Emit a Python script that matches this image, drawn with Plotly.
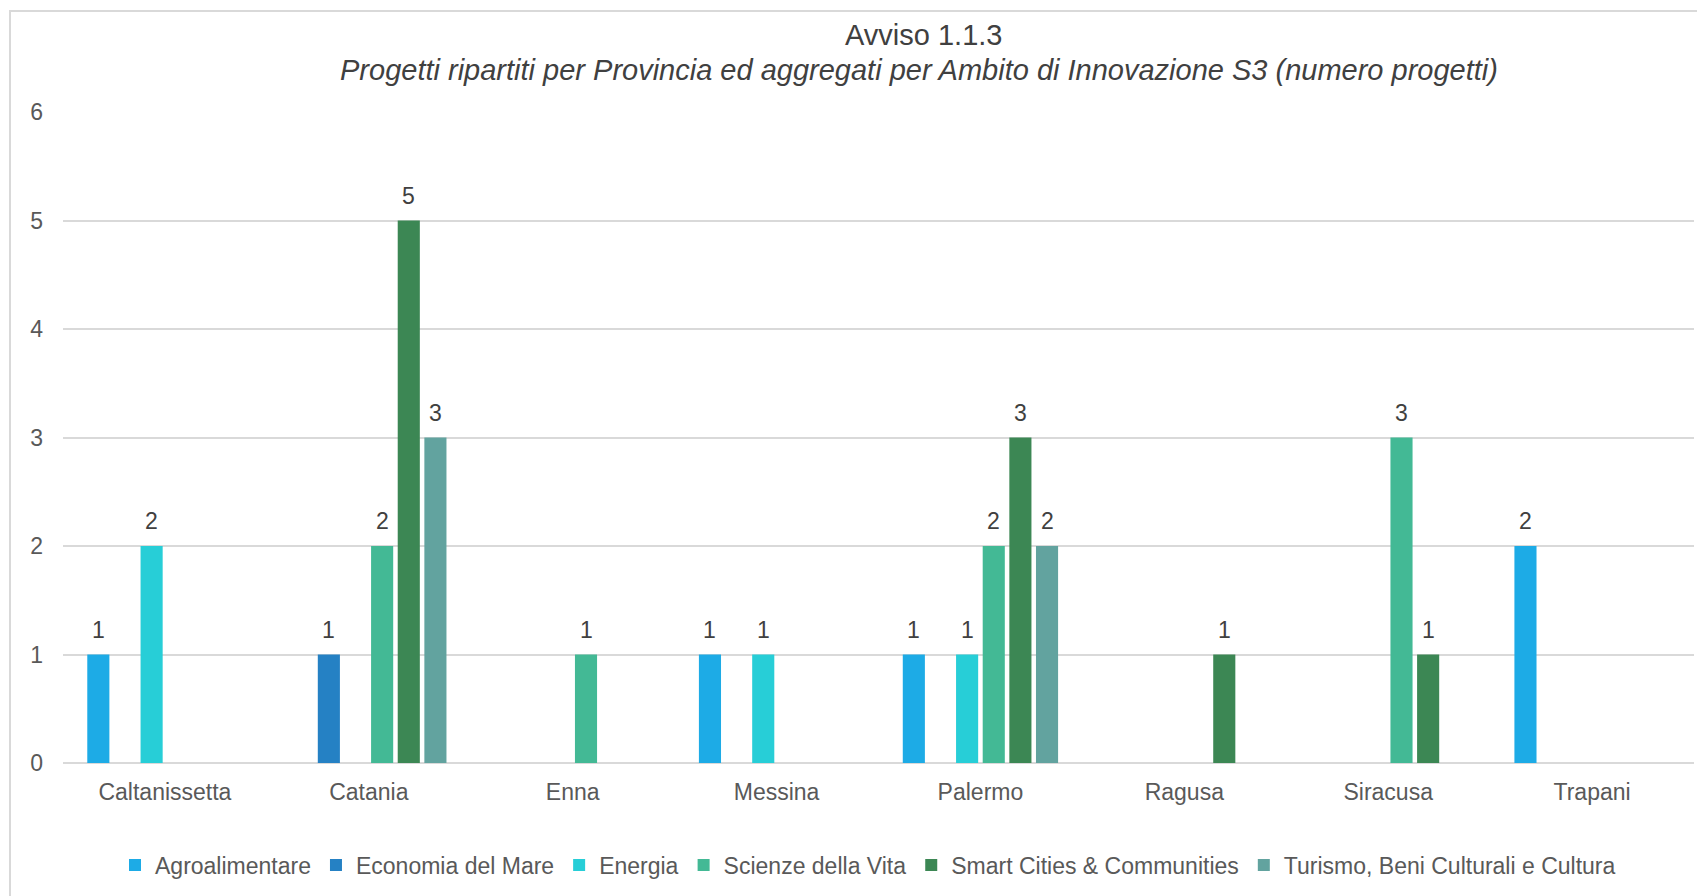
import plotly.graph_objects as go

provinces = ["Caltanissetta", "Catania", "Enna", "Messina", "Palermo", "Ragusa", "Siracusa", "Trapani"]
series_names = ["Agroalimentare", "Economia del Mare", "Energia", "Scienze della Vita",
                "Smart Cities & Communities", "Turismo, Beni Culturali e Cultura"]
agroalimentare = [1, 0, 0, 1, 1, 0, 0, 2]
economia_mare = [0, 1, 0, 0, 0, 0, 0, 0]
energia = [2, 0, 0, 1, 1, 0, 0, 0]
scienze_vita = [0, 2, 1, 0, 2, 0, 3, 0]
smart_cities = [0, 5, 0, 0, 3, 1, 1, 0]
turismo = [0, 3, 0, 0, 2, 0, 0, 0]
y_ticks = [0, 1, 2, 3, 4, 5, 6]
title_main = "Avviso 1.1.3"
title_sub = "Progetti ripartiti per Provincia ed aggregati per Ambito di Innovazione S3 (numero progetti)"

colors = ["#1DABE6", "#2581C4", "#27CED7", "#43B995", "#3C8754", "#62A39F"]
all_values = [agroalimentare, economia_mare, energia, scienze_vita, smart_cities, turismo]

# figure is placed by the page at an 8px offset
W, H = 1697, 888
L, R, T, B = 55, 11, 104, 133
pw, ph = W - L - R, H - T - B
BARGAP = 0.216
slot = (pw / len(provinces)) * (1 - BARGAP) / len(series_names)
FONT = "Liberation Sans, Arial"

fig = go.Figure()
for i, (name, vals, col) in enumerate(zip(series_names, all_values, colors)):
    fig.add_trace(go.Bar(name=name, x=provinces, y=vals,
                         marker=dict(color=col, line=dict(width=0))))
    for p, v in zip(provinces, vals):
        if v > 0:
            fig.add_annotation(x=p, y=v, xref="x", yref="y", text=str(v), showarrow=False,
                               xshift=(i - (len(series_names) - 1) / 2) * slot, yshift=25,
                               yanchor="middle", font=dict(family=FONT, size=23, color="#404040"))

fig.add_annotation(xref="paper", yref="paper", x=(915 - L) / pw, y=(H - B - 27) / ph,
                   text=title_main, showarrow=False, xanchor="center", yanchor="middle",
                   font=dict(family=FONT, size=29, color="#404040"))
fig.add_annotation(xref="paper", yref="paper", x=(911 - L) / pw, y=(H - B - 62) / ph,
                   text="<i>" + title_sub + "</i>", showarrow=False, xanchor="center", yanchor="middle",
                   font=dict(family=FONT, size=29, color="#404040"))

fig.update_layout(
    width=W, height=H,
    margin=dict(l=L, r=R, t=T, b=B, autoexpand=False),
    paper_bgcolor="white", plot_bgcolor="white",
    barmode="group", bargap=BARGAP, bargroupgap=0.17,
    font=dict(family=FONT, size=23, color="#595959"),
    xaxis=dict(showgrid=False, showline=False, ticks="", ticklabelstandoff=13, automargin=False,
               tickfont=dict(size=23, color="#595959")),
    yaxis=dict(range=[0, 6], tickvals=y_ticks, showgrid=True, gridcolor="#D9D9D9", gridwidth=1.5,
               zeroline=True, zerolinecolor="#D9D9D9", zerolinewidth=1.5, automargin=False,
               tickfont=dict(size=23, color="#595959"), ticklabelstandoff=19),
    legend=dict(orientation="h", x=(860 - L) / pw, xanchor="center",
                yref="container", y=1 - 857 / H, yanchor="middle",
                font=dict(size=23, color="#595959"), itemwidth=30, tracegroupgap=0),
    showlegend=True,
    shapes=[dict(type="rect", xref="paper", yref="paper",
                 x0=(2 - L) / pw, x1=1.2, y0=-0.5, y1=(H - B - 3) / ph,
                 line=dict(color="#D9D9D9", width=2), fillcolor="rgba(0,0,0,0)", layer="below")],
)

fig.write_html("out.html")
